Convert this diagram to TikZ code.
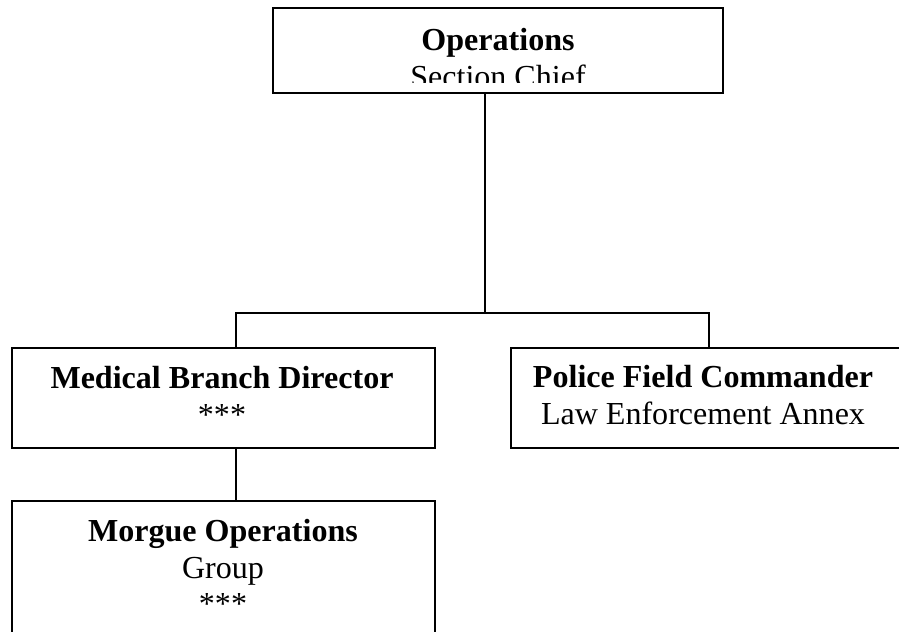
\documentclass[tikz,border=0pt]{standalone}
\usepackage{fontspec}
\setmainfont{Liberation Serif}
\usepackage{tikz}
\usetikzlibrary{calc,positioning}

\begin{document}
\begin{tikzpicture}[box/.style={draw, line width=1.3pt, inner sep=0pt},
		txt/.style={anchor=north, inner sep=0pt, align=center, font=\fontsize{22.8pt}{26.2pt}\selectfont},
		wire/.style={line width=1.3pt}]
				\useasboundingbox (0,0) rectangle (22.475,-15.8);
				\node[box, minimum width=11.25cm, minimum height=2.125cm] (ops) at (12.45,-1.2625) {};
				\node[box, minimum width=10.575cm, minimum height=2.5cm] (med) at (5.5875,-9.95) {};
				\node[box, minimum width=9.85cm, minimum height=2.5cm] (pol) at (17.7,-9.95) {};
				\node[box, minimum width=10.575cm, minimum height=3.6cm] (mor) at (5.5875,-14.325) {};
				\coordinate (split) at (12.125,-7.825);
				\coordinate (left) at (5.9,-7.825);
				\coordinate (right) at (17.725,-7.825);
				\coordinate (cut) at (0,-2.075);
				\begin{scope}
				\clip (ops.north west) rectangle (ops.east |- cut);
				\node[txt] (ops-txt) at (12.45,-0.605) {\strut\textbf{Operations}\\Section Chief};
				\end{scope}
				\node[txt] (med-txt) at (5.55,-9.055) {\strut\textbf{Medical Branch Director}\\***};
				\node[txt] (pol-txt) at (17.575,-9.03) {\strut\textbf{Police Field Commander}\\Law Enforcement Annex};
				\node[txt] (mor-txt) at (5.575,-12.88) {\strut\textbf{Morgue Operations}\\Group\\***};
				\draw[wire] (split |- ops.south) -- (split);
				\draw[wire] (left |- med.north) -- (left) -- (right) -- (right |- pol.north);
				\draw[wire] (left |- med.south) -- (left |- mor.north);
\end{tikzpicture}
\end{document}
